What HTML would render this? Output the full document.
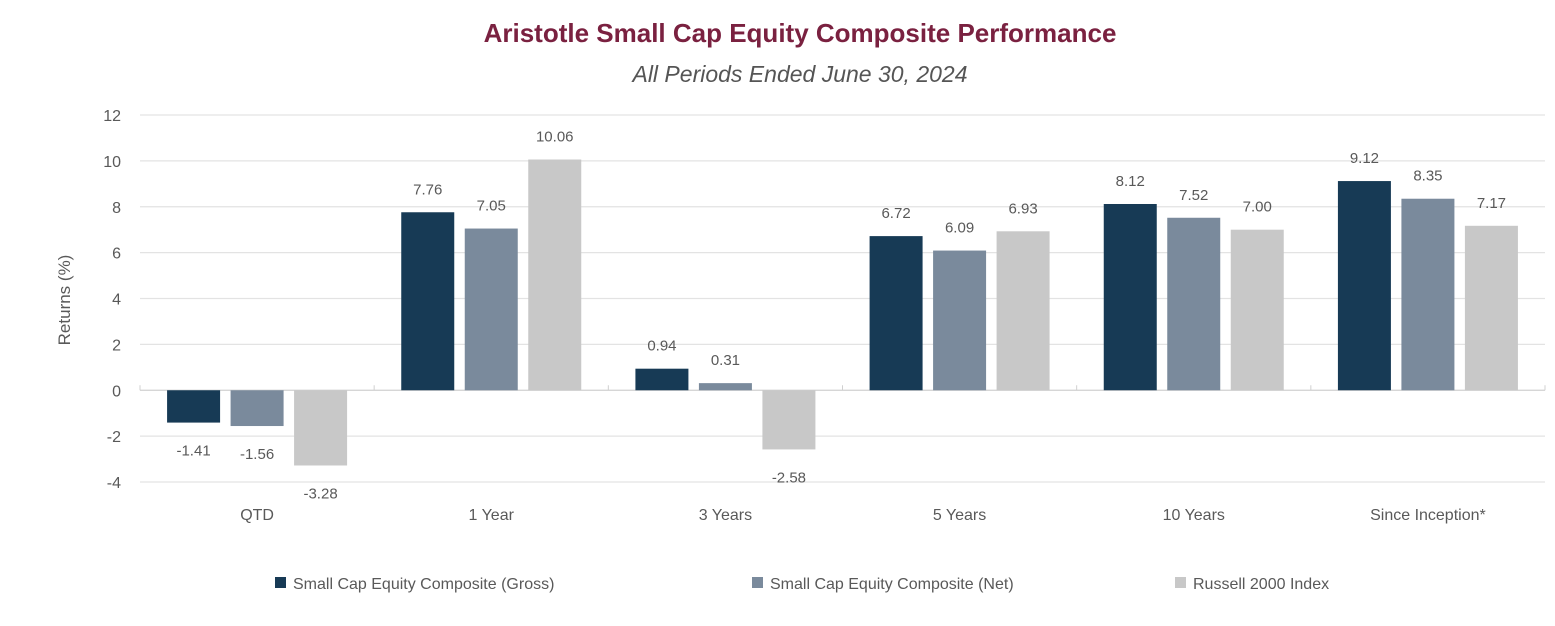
<!DOCTYPE html>
<html><head><meta charset="utf-8"><style>
html,body{margin:0;padding:0;background:#fff;}
svg{display:block;font-family:"Liberation Sans",sans-serif;}
</style></head><body>
<svg id="chart" width="1555" height="626" viewBox="0 0 1555 626">
<text x="800" y="42" text-anchor="middle" font-size="26" font-weight="bold" fill="#7a2140">Aristotle Small Cap Equity Composite Performance</text>
<text x="800" y="82" text-anchor="middle" font-size="23" font-style="italic" fill="#555">All Periods Ended June 30, 2024</text>
<text transform="translate(70,300) rotate(-90)" text-anchor="middle" font-size="17" fill="#595959">Returns (%)</text>
<g id="grid"></g><g id="bars"></g><g id="labels"></g><g id="legend"></g>
</svg>
<script>
const categories=["QTD","1 Year","3 Years","5 Years","10 Years","Since Inception*"];
const gross=[-1.41,7.76,0.94,6.72,8.12,9.12];
const net=[-1.56,7.05,0.31,6.09,7.52,8.35];
const russell=[-3.28,10.06,-2.58,6.93,7.00,7.17];
const seriesNames=["Small Cap Equity Composite (Gross)","Small Cap Equity Composite (Net)","Russell 2000 Index"];
const yTicks=[-4,-2,0,2,4,6,8,10,12];
const NS="http://www.w3.org/2000/svg";
const colors=["#173a55","#7a8a9c","#c8c8c8"];
const L=140,R=1545,yTop=115,yBot=482,yMin=-4,yMax=12;
const y=v=>yBot-(v-yMin)/(yMax-yMin)*(yBot-yTop);
const gw=(R-L)/categories.length;
const x=i=>L+gw*i+gw/2;
function mk(t,a,p){const e=document.createElementNS(NS,t);for(const k in a)e.setAttribute(k,a[k]);p.appendChild(e);return e;}
const grid=document.getElementById('grid'),bars=document.getElementById('bars'),labels=document.getElementById('labels'),legend=document.getElementById('legend');
yTicks.forEach(t=>{
 if(t!==0){const g=mk('line',{x1:L,x2:R,y1:y(t),y2:y(t),stroke:'#e3e3e3','stroke-width':1.3},grid);
 
 }
 const tx=mk('text',{x:121,y:y(t)+6,'text-anchor':'end','font-size':16,fill:'#595959'},grid);tx.textContent=t;
 
 
});
const ax=mk('line',{x1:L,x2:R,y1:y(0),y2:y(0),stroke:'#d0d0d0','stroke-width':1.3},grid);


for(let i=0;i<=categories.length;i++){const tk=mk('line',{x1:L+gw*i,x2:L+gw*i,y1:y(0),y2:y(0)-5,stroke:'#d0d0d0'},grid);
 
 }
const series=[gross,net,russell];
const bw=53,step=63.5;
categories.forEach((c,i)=>{
 const cl=mk('text',{x:x(i),y:520,'text-anchor':'middle','font-size':16,fill:'#595959'},labels);cl.textContent=c;
 
 
 series.forEach((s,j)=>{
  const v=s[i],cx=x(i)+(j-1)*step;
  const top=Math.min(y(v),y(0)),h=Math.abs(y(v)-y(0));
  const b=mk('rect',{x:cx-bw/2,y:top,width:bw,height:h,fill:colors[j]},bars);
  
  
  const ly=v>=0?y(v)-18:y(v)+33;
  const t=mk('text',{x:cx,y:ly,'text-anchor':'middle','font-size':15,fill:'#595959'},labels);t.textContent=v.toFixed(2);
  
  
 });
});
const lx=[275,752,1175];
seriesNames.forEach((n,j)=>{
 const r=mk('rect',{x:lx[j],y:577,width:11,height:11,fill:colors[j]},legend);
 
 
 const t=mk('text',{x:lx[j]+18,y:589,'font-size':16,fill:'#595959'},legend);t.textContent=n;
 
 
});
</script>
</body></html>
